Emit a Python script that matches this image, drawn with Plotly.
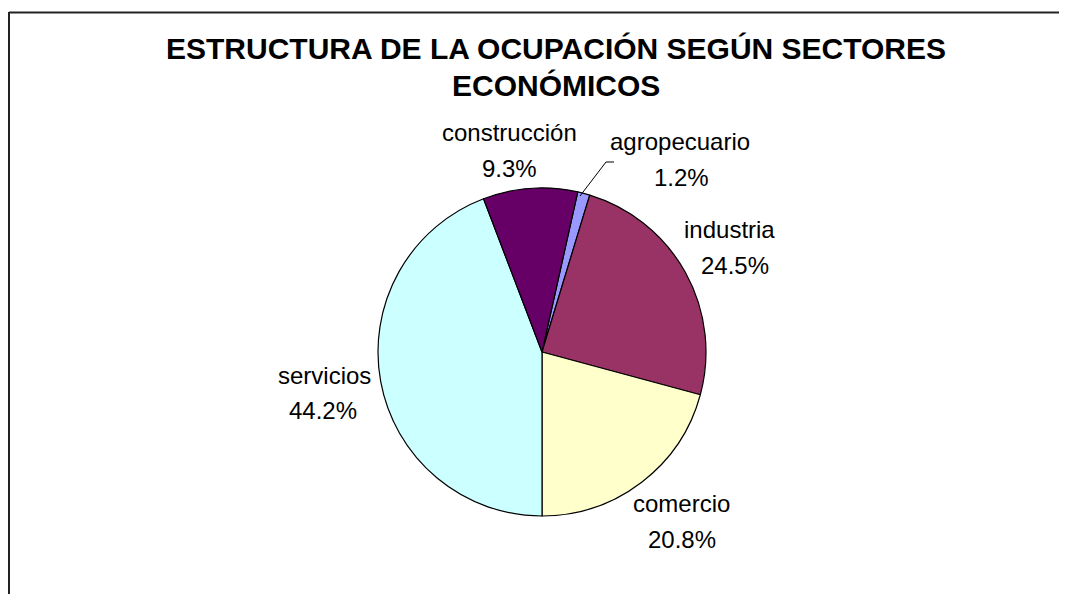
import plotly.graph_objects as go

W, H = 1067, 594

categories = ["agropecuario", "industria", "comercio", "servicios", "construcción"]
shares = [1.2, 24.5, 20.8, 44.2, 9.3]
pct_labels = ["1.2%", "24.5%", "20.8%", "44.2%", "9.3%"]
colors = ["#9999FF", "#993366", "#FFFFCC", "#CCFFFF", "#660066"]
title_lines = ["ESTRUCTURA DE LA OCUPACIÓN SEGÚN SECTORES", "ECONÓMICOS"]

# the page body has an 8px margin: convert window pixels to paper coordinates
OFF = 8

def px(x):
    return (x - OFF) / W

def py(y):
    return 1 - (y - OFF) / H

cx, cy, r = 542, 352, 164

# label anchor positions (window pixel centers: name line, percent line)
label_pos = {
    "agropecuario": ((680, 142), (681, 177)),
    "industria": ((729, 229), (735, 265)),
    "comercio": ((682, 503), (682, 539)),
    "servicios": ((324, 375), (323, 410)),
    "construcción": ((509, 133), (509, 168)),
}

fig = go.Figure(
    go.Pie(
        labels=categories,
        values=shares,
        sort=False,
        direction="clockwise",
        rotation=12.6,
        marker=dict(colors=colors, line=dict(color="#000000", width=1.2)),
        textinfo="none",
        hoverinfo="label+percent",
        showlegend=False,
        domain=dict(x=[px(cx - r), px(cx + r)], y=[py(cy + r), py(cy - r)]),
    )
)

annotations = []
font_lbl = dict(family="Liberation Sans, Arial, sans-serif", size=24, color="#000000")
for name, pct in zip(categories, pct_labels):
    (nx, ny), (qx, qy) = label_pos[name]
    annotations.append(dict(x=px(nx), y=py(ny), xref="paper", yref="paper", text=name,
                            showarrow=False, font=font_lbl, xanchor="center", yanchor="middle"))
    annotations.append(dict(x=px(qx), y=py(qy), xref="paper", yref="paper", text=pct,
                            showarrow=False, font=font_lbl, xanchor="center", yanchor="middle"))

title_font = dict(family="Liberation Sans, Arial, sans-serif", size=30, color="#000000")
for t, yy in zip(title_lines, [48, 85]):
    annotations.append(dict(x=px(556), y=py(yy), xref="paper", yref="paper",
                            text="<b>" + t + "</b>", showarrow=False, font=title_font,
                            xanchor="center", yanchor="middle"))

shapes = [
    # chart frame (top and left edges visible)
    dict(type="line", xref="paper", yref="paper", x0=px(9), y0=py(12.5), x1=px(1075), y1=py(12.5),
         line=dict(color="#222222", width=2)),
    dict(type="line", xref="paper", yref="paper", x0=px(9), y0=py(12), x1=px(9), y1=py(602),
         line=dict(color="#222222", width=2)),
    # leader line for agropecuario
    dict(type="path", xref="paper", yref="paper",
         path=f"M {px(580)},{py(196)} L {px(606)},{py(162)} L {px(614)},{py(162)}",
         line=dict(color="#000000", width=1)),
]

fig.update_layout(
    width=W, height=H,
    margin=dict(l=0, r=0, t=0, b=0),
    paper_bgcolor="#FFFFFF",
    plot_bgcolor="#FFFFFF",
    annotations=annotations,
    shapes=shapes,
)

fig.write_html("out.html")
